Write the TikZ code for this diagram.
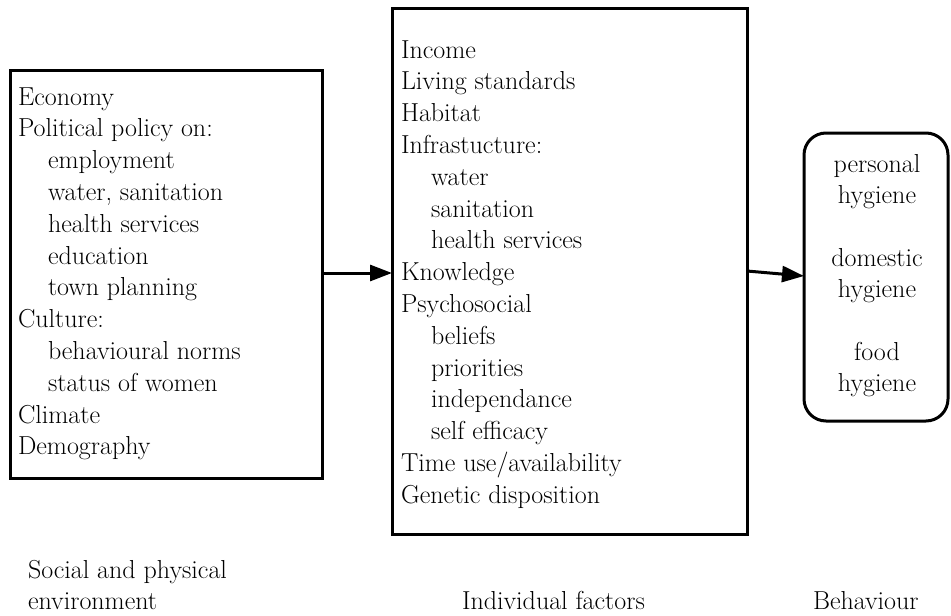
\documentclass[tikz,border=0pt]{standalone}
\usepackage{fontspec}
\usetikzlibrary{arrows.meta}
\tikzset{
  boxframe/.style={draw=black, line width=3pt, rectangle, inner sep=0pt, outer sep=0pt, anchor=north west},
  roundframe/.style={boxframe, rounded corners=22pt},
  txt/.style={inner sep=0pt, outer sep=0pt, anchor=base west, font=\fontsize{26}{31.8}\selectfont},
  conn/.style={line width=3pt, -{Triangle[length=22pt,width=16pt]}}
}
\newcommand{\ind}{\hspace*{30pt}}
\begin{document}
\begin{tikzpicture}[x=1pt,y=-1pt]
\useasboundingbox (0,0) rectangle (951,616);
% boxes
\node[boxframe, minimum width=312pt, minimum height=408pt] (lbox) at (10,70) {};
\node[boxframe, minimum width=355pt, minimum height=526pt] (mbox) at (392,8) {};
\node[roundframe, minimum width=144pt, minimum height=288pt] (rbox) at (804,133) {};
% texts
\node[txt] (ltext) at (18,105) {\begin{tabular}[t]{@{}l@{}}
Economy\\
Political policy on:\\
\ind employment\\
\ind water, sanitation\\
\ind health services\\
\ind education\\
\ind town planning\\
Culture:\\
\ind behavioural norms\\
\ind status of women\\
Climate\\
Demography
\end{tabular}};
\node[txt] (mtext) at (401,58) {\begin{tabular}[t]{@{}l@{}}
Income\\
Living standards\\
Habitat\\
Infrastucture:\\
\ind water\\
\ind sanitation\\
\ind health services\\
Knowledge\\
Psychosocial\\
\ind beliefs\\
\ind priorities\\
\ind independance\\
\ind self efficacy\\
Time use/availability\\
Genetic disposition
\end{tabular}};
\node[txt, anchor=base, font=\fontsize{26}{31.4}\selectfont] (rtext) at (877,172) {\begin{tabular}[t]{@{}c@{}}
personal\\
hygiene\\[31.4pt]
domestic\\
hygiene\\[31.4pt]
food\\
hygiene
\end{tabular}};
% bottom labels
\node[txt] (lab1) at (28,578) {Social and physical};
\node[txt] (lab1b) at (28,609) {environment};
\node[txt] (lab2) at (462,609) {Individual factors};
\node[txt] (lab3) at (813,609) {Behaviour};
% connectors
\draw[conn] (lbox.east |- 0,273) -- (mbox.west |- 0,273);
\draw[conn] (mbox.east |- 0,271) -- (rbox.west |- 0,276);
\end{tikzpicture}
\end{document}
